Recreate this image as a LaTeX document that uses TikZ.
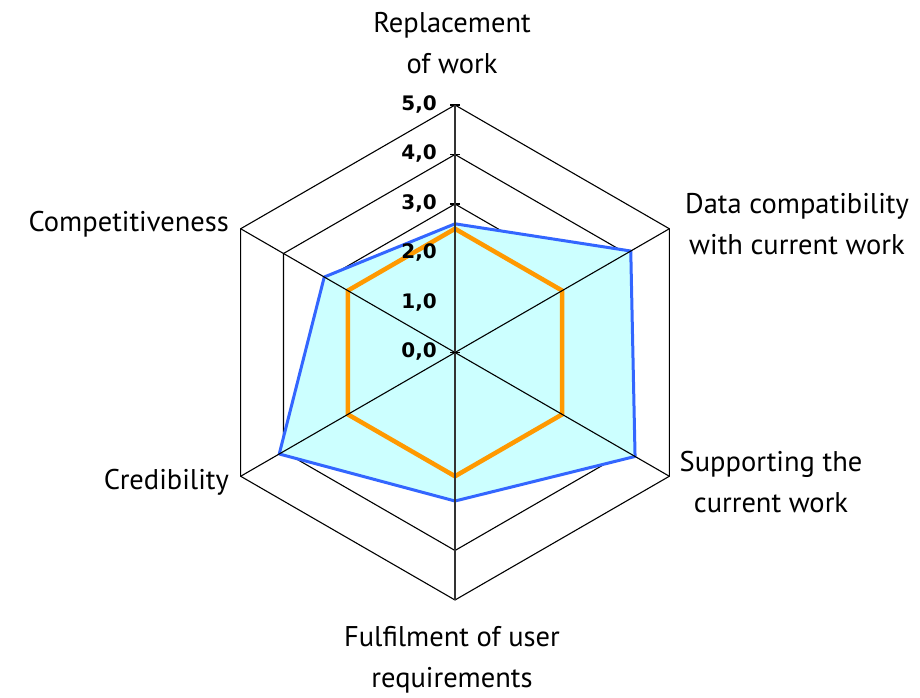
\documentclass[tikz,border=0pt]{standalone}
\usepackage{fontspec}
\setmainfont{PT Sans}
\newfontfamily\numfont{DejaVu Sans}
\definecolor{fillcyan}{HTML}{CCFFFF}
\definecolor{serblue}{HTML}{3366FF}
\definecolor{serorange}{HTML}{FF9900}
\begin{document}
\begin{tikzpicture}[x=1pt,y=1pt,
  gridline/.style={black, line width=1.1pt},
  spoke/.style={black, line width=1.1pt},
  axisline/.style={black!80, line width=1.7pt},
  lbl/.style={font=\fontsize{28.5}{41}\selectfont, align=center, inner sep=0pt},
  num/.style={font=\numfont\bfseries\fontsize{20}{20}\selectfont, anchor=east, inner sep=0pt},
  blueser/.style={serblue, line width=3pt, line join=round},
  orangeser/.style={serorange, line width=4.5pt, line join=miter}]
\useasboundingbox (0,-698) rectangle (920,0);
\def\u{49.5}
\begin{scope}[shift={(455,-352.5)}]
  % grid hexagons
  \foreach \k in {1,...,5} {
    \draw[gridline] (90:{\k*\u}) -- (30:{\k*\u}) -- (-30:{\k*\u}) -- (-90:{\k*\u}) -- (-150:{\k*\u}) -- (150:{\k*\u}) -- cycle;
    \draw[gridline] (-5,{\k*\u}) -- (5,{\k*\u});
  }
  % blue series fill
  \path[fill=fillcyan] (90:{2.6*\u}) -- (30:{4.1*\u}) -- (-30:{4.2*\u}) -- (-90:{3.0*\u}) -- (-150:{4.1*\u}) -- (150:{3.05*\u}) -- cycle;
  % orange series
  \draw[orangeser] (90:{2.5*\u}) -- (30:{2.5*\u}) -- (-30:{2.5*\u}) -- (-90:{2.5*\u}) -- (-150:{2.5*\u}) -- (150:{2.5*\u}) -- cycle;
  % blue series line
  \draw[blueser] (90:{2.6*\u}) -- (30:{4.1*\u}) -- (-30:{4.2*\u}) -- (-90:{3.0*\u}) -- (-150:{4.1*\u}) -- (150:{3.05*\u}) -- cycle;
  % spokes
  \foreach \a in {30,-30,-150,150} {
    \draw[spoke] (0,0) -- (\a:{5*\u});
  }
  \draw[axisline] (-90:{5*\u}) -- (90:{5*\u});
  \draw[gridline] (-5,0) -- (5,0);
  % value labels
  \foreach \k in {0,...,5} {
    \node[num] (n\k) at (-18,{\k*\u+1}) {\k,0};
  }
\end{scope}
% axis labels
\node[lbl] (l1) at (452,-43) {Replacement\\of work};
\node[lbl] (l2) at (797,-224) {Data compatibility\\with current work};
\node[lbl] (l3) at (771,-482) {Supporting the\\current work};
\node[lbl] (l4) at (452,-660) {Fulfilment of user\\requirements};
\node[lbl, anchor=east] (l5) at (229,-224) {Competitiveness};
\node[lbl, anchor=east] (l6) at (229,-482) {Credibility};
\end{tikzpicture}
\end{document}
